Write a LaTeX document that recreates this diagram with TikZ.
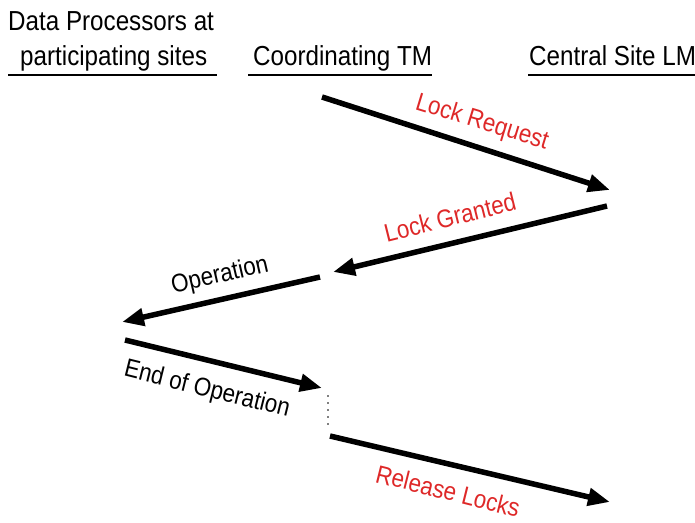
\documentclass[tikz,border=0pt]{standalone}
\usepackage{fontspec}
\setmainfont{Liberation Sans}[FakeStretch=0.88]
\usetikzlibrary{arrows.meta}
\definecolor{msgred}{RGB}{222,40,40}
\begin{document}
\begin{tikzpicture}[x=1pt, y=-1pt,
    hdr/.style={inner sep=0pt, font=\fontsize{27.5}{30}\selectfont},
    lbl/.style={inner sep=0pt, font=\fontsize{25.5}{28}\selectfont},
    uline/.style={line width=2.2pt},
    msg/.style={line width=5.5pt, -{Triangle[length=22pt,width=17pt]}}]
        \useasboundingbox (0,0) rectangle (695,522);
        % column headings
        \node[hdr, anchor=base west] (dp1) at (8,30) {Data Processors at};
        \node[hdr, anchor=base west] (dp2) at (20,65) {participating sites};
        \node[hdr, anchor=base west] (tm) at (253,65) {Coordinating TM};
        \node[hdr, anchor=base west] (lm) at (529,65) {Central Site LM};
        \draw[uline] (8,75) -- (217,75);
        \draw[uline] (248,75) -- (432,75);
        \draw[uline] (528,75) -- (695,75);
        % message end points
        \foreach \name/\x/\y in {a1/322/97, b1/610/190, a2/607/206, b2/333/272,
                                a3/320/277, b3/122/322, a4/125/340, b4/322/388,
                                d1/328/395, d2/328/428, a5/330/436, b5/610/502} {
            \coordinate (\name) at (\x,\y);
        }
        \draw[msg] (a1) -- (b1);
        \draw[msg] (a2) -- (b2);
        \draw[msg] (a3) -- (b3);
        \draw[msg] (a4) -- (b4);
        \draw[gray, line width=1.5pt, dash pattern=on 2pt off 5pt] (d1) -- (d2);
        \draw[msg] (a5) -- (b5);
        % message labels
        \node[lbl, msgred, rotate=-17] (req) at (482,123) {Lock Request};
        \node[lbl, msgred, rotate=14] (grant) at (450,217) {Lock Granted};
        \node[lbl, rotate=13] (op) at (220,276) {Operation};
        \node[lbl, rotate=-14] (eop) at (207,390) {End of Operation};
        \node[lbl, msgred, rotate=-14] (rel) at (448,491) {Release Locks};
    \end{tikzpicture}
\end{document}
